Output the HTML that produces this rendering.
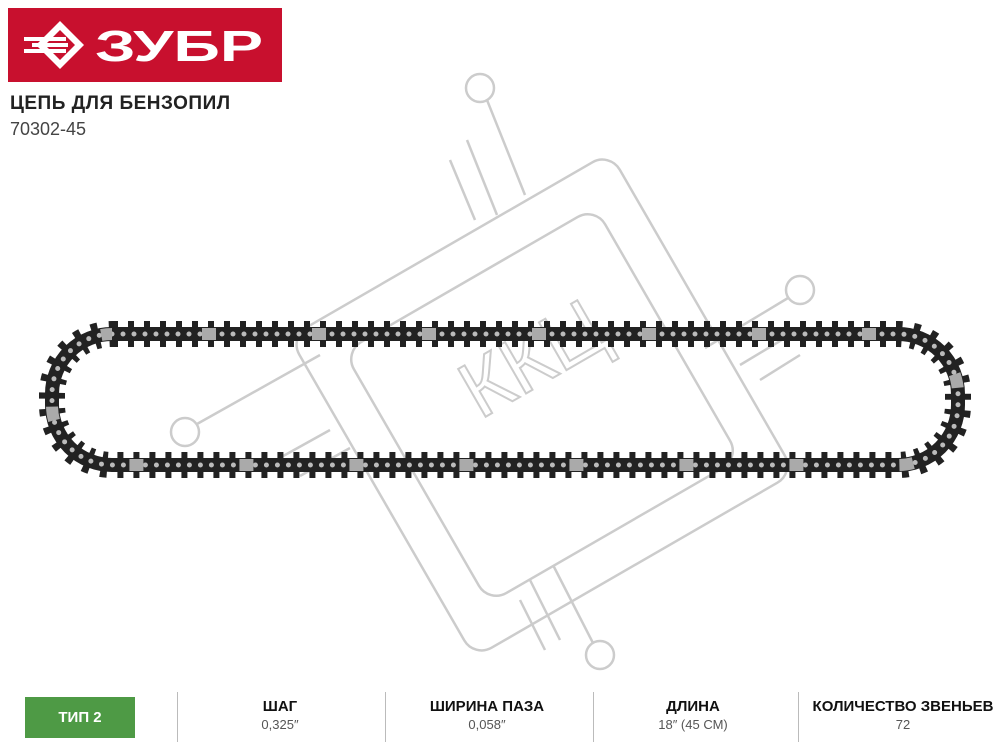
<!DOCTYPE html>
<html><head><meta charset="utf-8"><style>
html,body{margin:0;padding:0;background:#fff;}
body{width:1000px;height:748px;position:relative;overflow:hidden;font-family:"Liberation Sans",sans-serif;}
.logo{position:absolute;left:8px;top:8px;width:274px;height:74px;background:#c8102e;}
.t1{position:absolute;left:10px;top:93px;font-size:19px;font-weight:bold;color:#222;letter-spacing:0.5px;}
.t2{position:absolute;left:10px;top:119px;font-size:18px;color:#444;}
.green{position:absolute;left:25px;top:697px;width:110px;height:41px;background:#4e9a45;color:#fff;font-weight:bold;font-size:15px;line-height:41px;text-align:center;}
.sep{position:absolute;top:692px;width:1px;height:50px;background:#bbb;}
.col{position:absolute;top:698px;width:200px;text-align:center;}
.col b{display:block;font-size:15px;color:#111;}
.col span{display:block;font-size:13px;color:#555;margin-top:2px;}
</style></head><body>
<div class="logo">
<svg width="274" height="74" viewBox="0 0 274 74">
<polygon points="52,13 76,37 52,61 28,37" fill="#fff"/>
<polygon points="52,22 67,37 52,52 37,37" fill="#c8102e"/>
<g fill="#fff"><rect x="16" y="29" width="42" height="4"/><rect x="16" y="41" width="42" height="4"/><rect x="24" y="35" width="36" height="4"/></g>
<text x="87" y="53" fill="#fff" font-size="44" font-weight="bold" font-family="Liberation Sans, sans-serif" textLength="168" lengthAdjust="spacingAndGlyphs">ЗУБР</text>
</svg></div>
<div class="t1">ЦЕПЬ ДЛЯ БЕНЗОПИЛ</div>
<div class="t2">70302-45</div>

<svg style="position:absolute;left:0;top:0" width="1000" height="690">
<g fill="none" stroke="#ccc" stroke-width="2.5">
<g transform="translate(542,405) rotate(-30)">
<rect x="-185" y="-185" width="370" height="370" rx="20"/>
<rect x="-145" y="-145" width="290" height="290" rx="20"/>
</g>
<circle cx="480" cy="88" r="14"/><circle cx="800" cy="290" r="14"/><circle cx="600" cy="655" r="14"/><circle cx="185" cy="432" r="14"/>
<line x1="487" y1="100" x2="525" y2="195"/><line x1="467" y1="140" x2="497" y2="215"/><line x1="450" y1="160" x2="475" y2="220"/>
<line x1="788" y1="298" x2="705" y2="348"/><line x1="790" y1="335" x2="740" y2="365"/><line x1="800" y1="355" x2="760" y2="380"/>
<line x1="593" y1="643" x2="553" y2="565"/><line x1="560" y1="640" x2="530" y2="580"/><line x1="545" y1="650" x2="520" y2="600"/>
<line x1="197" y1="424" x2="320" y2="355"/><line x1="258" y1="470" x2="330" y2="430"/><line x1="300" y1="476" x2="350" y2="448"/>
<text x="0" y="0" transform="translate(480,420) rotate(-30)" font-size="80" fill="none" stroke="#ccc" stroke-width="2" font-family="Liberation Sans, sans-serif">ККЦ</text>
</g>
<g fill="none">
<rect x="52" y="334" width="906" height="131" rx="60" stroke="#222" stroke-width="14"/>
<rect x="52" y="334" width="906" height="131" rx="60" stroke="#222" stroke-width="26" stroke-dasharray="6 10"/>
<rect x="52" y="334" width="906" height="131" rx="60" stroke="#bbb" stroke-width="5" stroke-linecap="round" stroke-dasharray="0 11"/>
<rect x="52" y="334" width="906" height="131" rx="60" stroke="#aaa" stroke-width="12" stroke-dasharray="14 96" stroke-dashoffset="20"/>
</g>
</svg>

<div class="green">ТИП 2</div>
<div class="sep" style="left:177px"></div>
<div class="sep" style="left:385px"></div>
<div class="sep" style="left:593px"></div>
<div class="sep" style="left:798px"></div>
<div class="col" style="left:180px"><b>ШАГ</b><span>0,325″</span></div>
<div class="col" style="left:387px"><b>ШИРИНА ПАЗА</b><span>0,058″</span></div>
<div class="col" style="left:593px"><b>ДЛИНА</b><span>18″ (45 СМ)</span></div>
<div class="col" style="left:803px"><b>КОЛИЧЕСТВО ЗВЕНЬЕВ</b><span>72</span></div>
</body></html>
